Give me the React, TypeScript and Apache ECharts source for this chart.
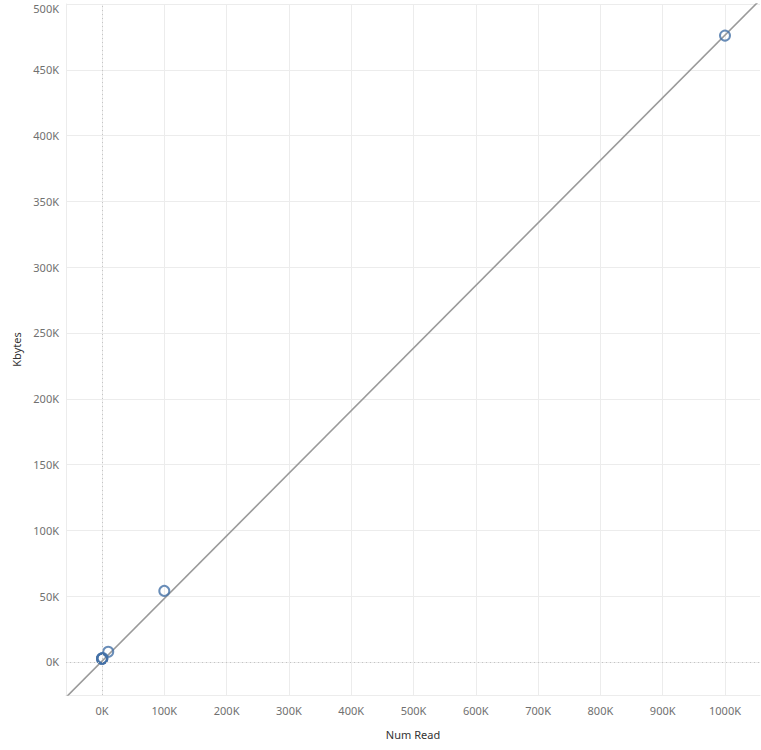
import React, { useEffect, useRef } from "react";
import * as echarts from "echarts";

// Data
const numRead = [1, 10, 100, 1000, 10000, 100000, 1000000];
const kbytes = [2500, 2500, 2600, 3000, 7800, 54000, 476000];

// Trend line endpoints (extended past the plot edges)
const trendX = [-60000, 1070000];
const trendY = [-27900, 509640];

const xTicks = [0, 100000, 200000, 300000, 400000, 500000, 600000, 700000, 800000, 900000, 1000000];
const yTicks = [0, 50000, 100000, 150000, 200000, 250000, 300000, 350000, 400000, 450000, 500000];

const FONT = "Noto Sans";
const fmtK = (v: number) => `${Math.round(v / 1000)}K`;

export default function App() {
  const ref = useRef<HTMLDivElement>(null);
  useEffect(() => {
    if (!ref.current) return;
    const chart = echarts.init(ref.current, undefined, { renderer: "svg" });
    const gridColor = "#ececec";
    const yMaxTick = yTicks[yTicks.length - 1];
    chart.setOption({
      animation: false,
      backgroundColor: "#ffffff",
      textStyle: { fontFamily: FONT },
      grid: { left: 66, right: 1, top: 4, bottom: 55, containLabel: false },
      xAxis: {
        type: "value",
        min: -57800,
        max: 1056200,
        name: "Num Read",
        nameLocation: "middle",
        nameGap: 34,
        nameTextStyle: { color: "#333", fontSize: 11, fontFamily: FONT },
        axisLine: { show: true, onZero: false, lineStyle: { color: gridColor } },
        axisTick: { show: false, customValues: xTicks },
        axisLabel: {
          customValues: xTicks,
          formatter: fmtK,
          color: "#707070",
          fontSize: 11,
          fontFamily: FONT,
          margin: 10,
        },
        splitLine: { show: true, lineStyle: { color: gridColor, width: 1 } },
      },
      yAxis: {
        type: "value",
        min: -25100,
        max: 500000,
        name: "Kbytes",
        nameLocation: "middle",
        nameRotate: 90,
        nameGap: 44,
        nameTextStyle: { color: "#333", fontSize: 11, fontFamily: FONT },
        axisLine: { show: true, onZero: false, lineStyle: { color: gridColor } },
        axisTick: { show: false, customValues: yTicks },
        axisLabel: {
          customValues: yTicks,
          formatter: (v: number) =>
            v === yMaxTick ? `{top|${fmtK(v)}}` : fmtK(v),
          rich: {
            top: {
              color: "#707070",
              fontSize: 11,
              fontFamily: FONT,
              padding: [9, 0, 0, 0],
            },
          },
          color: "#707070",
          fontSize: 11,
          fontFamily: FONT,
          margin: 7,
        },
        splitLine: { show: true, lineStyle: { color: gridColor, width: 1 } },
      },
      series: [
        {
          type: "line",
          data: trendX.map((x, i) => [x, trendY[i]]),
          symbol: "none",
          clip: true,
          silent: true,
          z: 2,
          lineStyle: { color: "#9a9a9a", width: 1.6 },
          markLine: {
            silent: true,
            symbol: "none",
            label: { show: false },
            lineStyle: { color: "#c4c4c4", type: [1, 3], width: 1 },
            data: [{ xAxis: 0 }, { yAxis: 0 }],
          },
        },
        {
          type: "scatter",
          data: numRead.map((x, i) => [x, kbytes[i]]),
          symbol: "circle",
          symbolSize: 10,
          z: 3,
          itemStyle: {
            color: "rgba(255,255,255,0)",
            borderColor: "#4471a6",
            borderWidth: 2,
          },
        },
      ],
    });
    return () => chart.dispose();
  }, []);
  return (
    <div
      ref={ref}
      style={{ position: "fixed", left: 0, top: 0, width: 761, height: 750 }}
    />
  );
}
